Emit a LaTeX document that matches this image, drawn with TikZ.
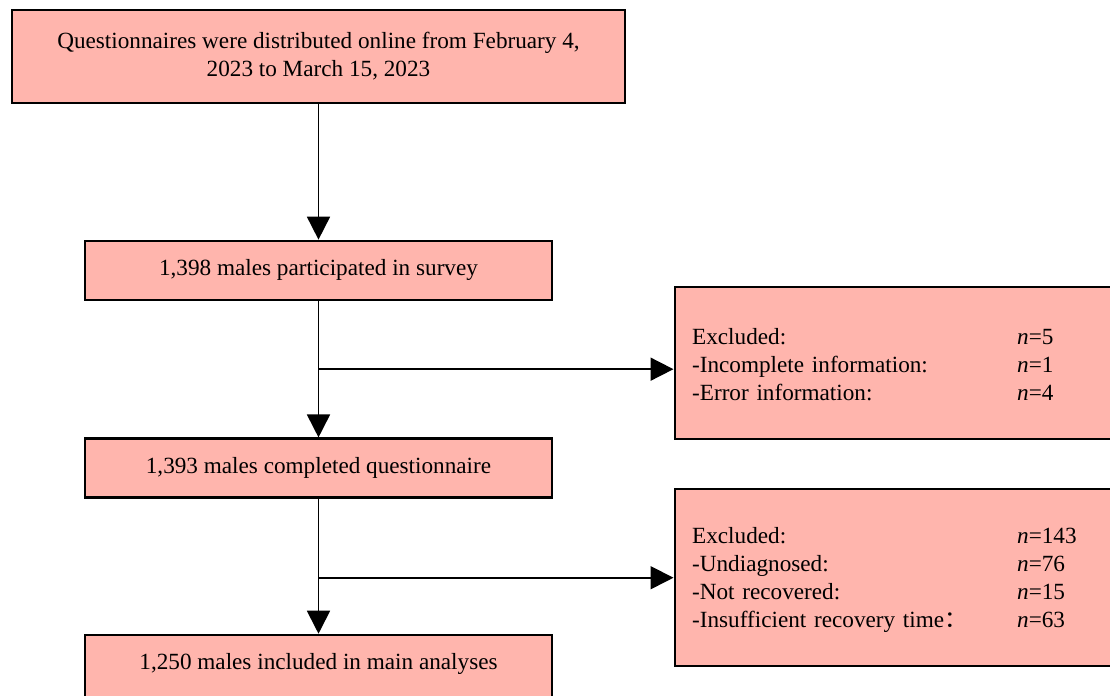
\documentclass[tikz,border=0pt]{standalone}
\usepackage{fontspec}
\setmainfont{Liberation Serif}
\newfontfamily\cjk{Noto Sans CJK SC}
\usepackage{xcolor}
\usetikzlibrary{arrows.meta,positioning,calc}
\definecolor{boxfill}{RGB}{255,181,173}

\begin{document}
\begin{tikzpicture}[
    box/.style={draw, line width=1.3pt, fill=boxfill, minimum width=9.34cm,
                minimum height=1.18cm, align=center,
                font=\fontsize{13.2}{15.9}\selectfont},
    excl/.style={draw, line width=1.3pt, fill=boxfill, minimum width=9.1cm,
                 text width=8.4cm, inner xsep=0.34cm, align=left,
                 font=\fontsize{13.2}{15.9}\selectfont},
    arrow/.style={-{Triangle[length=0.46cm,width=0.46cm]}, line width=1pt}
]
\useasboundingbox (0,0) rectangle (22.2,-13.9);
\node[box, minimum width=12.26cm, minimum height=1.86cm] (dist) at (6.37,-1.13)
     {Questionnaires were distributed online from February 4,\\2023 to March 15, 2023};
\node[box, below=2.71cm of dist] (part) {1,398 males participated in survey};
\node[box, below=2.73cm of part] (comp) {1,393 males completed questionnaire};
\node[box, below=2.70cm of comp, minimum height=0pt, inner ysep=0.38cm,
      text height=0.32cm, text depth=0.5cm] (incl)
     {1,250 males included in main analyses};
\coordinate (br1) at ($(part.south)!0.5!(comp.north)$);
\coordinate (br2) at ($(comp.south)+(0,-1.58)$);
\node[excl, minimum height=3.04cm, right=7.1cm of br1, yshift=0.12cm] (excla)
     {\begin{tabular}{@{}p{6.5cm}@{}l@{}}
      \rule{0pt}{15.7pt}Excluded: & \textit{n}=5\\
      -Incomplete information: & \textit{n}=1\\
      -Error information: & \textit{n}=4
      \end{tabular}};
\node[excl, minimum height=3.54cm, right=7.1cm of br2] (exclb)
     {\begin{tabular}{@{}p{6.5cm}@{}l@{}}
      \rule{0pt}{14pt}Excluded: & \textit{n}=143\\
      -Undiagnosed: & \textit{n}=76\\
      -Not recovered: & \textit{n}=15\\
      -Insufficient recovery time{\cjk ：} & \textit{n}=63
      \end{tabular}};
\draw[arrow] (dist) -- (part);
\draw[arrow] (part) -- (comp);
\draw[arrow] (comp) -- (incl);
\draw[arrow] (br1) -- (br1 -| excla.west);
\draw[arrow] (br2) -- (br2 -| exclb.west);
\end{tikzpicture}
\end{document}
